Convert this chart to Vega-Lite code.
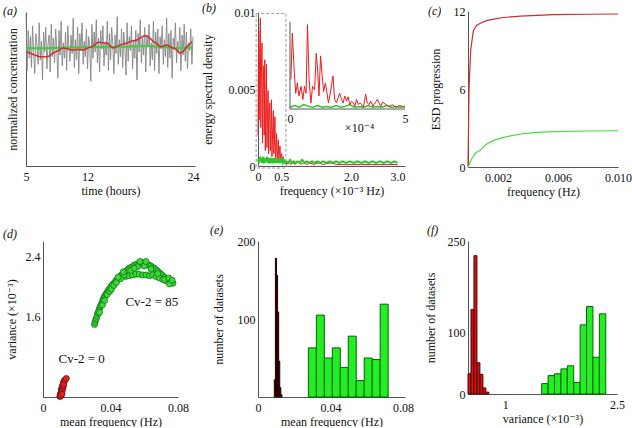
{
  "$schema": "https://vega.github.io/schema/vega-lite/v6.json",
  "padding": {"left": 3, "top": 2, "right": 0, "bottom": 0},
  "background": "white",
  "config": {
    "font": "'Liberation Serif', 'DejaVu Serif', serif",
    "view": {"stroke": null},
    "axis": {"labelFont": "'Liberation Serif', 'DejaVu Serif', serif", "titleFont": "'Liberation Serif', 'DejaVu Serif', serif", "labelFontSize": 12, "titleFontSize": 12, "titleFontWeight": "normal", "ticks": false, "grid": false, "domainColor": "#555555", "labelColor": "#111111", "titleColor": "#111111", "labelPadding": 4, "labelFlush": false, "labelOverlap": false},
    "axisX": {"labelPadding": 5, "titlePadding": 3},
    "title": {"font": "'Liberation Serif', 'DejaVu Serif', serif", "fontSize": 12, "fontWeight": "normal", "fontStyle": "italic", "anchor": "start", "frame": "group", "offset": 0, "color": "#111111"}
  },
  "datasets": {
    "a_gray": [{"t":5,"v":0.99},{"t":5.125,"v":0.62},{"t":5.25,"v":0.88},{"t":5.375,"v":0.70},{"t":5.5,"v":0.84},{"t":5.625,"v":0.64},{"t":5.75,"v":0.91},{"t":5.875,"v":0.73},{"t":6,"v":0.60},{"t":6.125,"v":0.86},{"t":6.25,"v":0.78},{"t":6.375,"v":0.66},{"t":6.5,"v":0.93},{"t":6.625,"v":0.69},{"t":6.75,"v":0.81},{"t":6.875,"v":0.56},{"t":7,"v":0.87},{"t":7.125,"v":0.74},{"t":7.25,"v":0.90},{"t":7.375,"v":0.63},{"t":7.5,"v":0.79},{"t":7.625,"v":0.85},{"t":7.75,"v":0.61},{"t":7.875,"v":0.92},{"t":8,"v":0.71},{"t":8.125,"v":0.83},{"t":8.25,"v":0.67},{"t":8.375,"v":0.89},{"t":8.5,"v":0.76},{"t":8.625,"v":0.57},{"t":8.75,"v":0.88},{"t":8.875,"v":0.72},{"t":9,"v":0.94},{"t":9.125,"v":0.65},{"t":9.25,"v":0.80},{"t":9.375,"v":0.70},{"t":9.5,"v":0.87},{"t":9.625,"v":0.62},{"t":9.75,"v":0.91},{"t":9.875,"v":0.77},{"t":10,"v":0.68},{"t":10.125,"v":0.85},{"t":10.25,"v":0.73},{"t":10.375,"v":0.96},{"t":10.5,"v":0.64},{"t":10.625,"v":0.82},{"t":10.75,"v":0.69},{"t":10.875,"v":0.90},{"t":11,"v":0.60},{"t":11.125,"v":0.86},{"t":11.25,"v":0.75},{"t":11.375,"v":0.93},{"t":11.5,"v":0.66},{"t":11.625,"v":0.81},{"t":11.75,"v":0.71},{"t":11.875,"v":0.89},{"t":12,"v":0.63},{"t":12.125,"v":0.84},{"t":12.25,"v":0.78},{"t":12.375,"v":0.55},{"t":12.5,"v":0.92},{"t":12.625,"v":0.70},{"t":12.75,"v":0.87},{"t":12.875,"v":0.74},{"t":13,"v":0.95},{"t":13.125,"v":0.67},{"t":13.25,"v":0.83},{"t":13.375,"v":0.61},{"t":13.5,"v":0.88},{"t":13.625,"v":0.76},{"t":13.75,"v":0.91},{"t":13.875,"v":0.65},{"t":14,"v":0.80},{"t":14.125,"v":0.72},{"t":14.25,"v":0.94},{"t":14.375,"v":0.62},{"t":14.5,"v":0.86},{"t":14.625,"v":0.69},{"t":14.75,"v":0.90},{"t":14.875,"v":0.79},{"t":15,"v":0.60},{"t":15.125,"v":0.85},{"t":15.25,"v":0.73},{"t":15.375,"v":0.97},{"t":15.5,"v":0.66},{"t":15.625,"v":0.82},{"t":15.75,"v":0.71},{"t":15.875,"v":0.89},{"t":16,"v":0.64},{"t":16.125,"v":0.87},{"t":16.25,"v":0.77},{"t":16.375,"v":0.59},{"t":16.5,"v":0.93},{"t":16.625,"v":0.68},{"t":16.75,"v":0.84},{"t":16.875,"v":0.75},{"t":17,"v":0.91},{"t":17.125,"v":0.63},{"t":17.25,"v":0.81},{"t":17.375,"v":0.70},{"t":17.5,"v":0.88},{"t":17.625,"v":0.56},{"t":17.75,"v":0.86},{"t":17.875,"v":0.74},{"t":18,"v":0.95},{"t":18.125,"v":0.67},{"t":18.25,"v":0.83},{"t":18.375,"v":0.72},{"t":18.5,"v":0.90},{"t":18.625,"v":0.61},{"t":18.75,"v":0.85},{"t":18.875,"v":0.78},{"t":19,"v":0.92},{"t":19.125,"v":0.65},{"t":19.25,"v":0.80},{"t":19.375,"v":0.69},{"t":19.5,"v":0.94},{"t":19.625,"v":0.62},{"t":19.75,"v":0.87},{"t":19.875,"v":0.73},{"t":20,"v":0.89},{"t":20.125,"v":0.60},{"t":20.25,"v":0.84},{"t":20.375,"v":0.76},{"t":20.5,"v":0.91},{"t":20.625,"v":0.66},{"t":20.75,"v":0.82},{"t":20.875,"v":0.71},{"t":21,"v":0.96},{"t":21.125,"v":0.64},{"t":21.25,"v":0.86},{"t":21.375,"v":0.70},{"t":21.5,"v":0.88},{"t":21.625,"v":0.57},{"t":21.75,"v":0.83},{"t":21.875,"v":0.77},{"t":22,"v":0.93},{"t":22.125,"v":0.67},{"t":22.25,"v":0.81},{"t":22.375,"v":0.74},{"t":22.5,"v":0.90},{"t":22.625,"v":0.62},{"t":22.75,"v":0.85},{"t":22.875,"v":0.72},{"t":23,"v":0.92},{"t":23.125,"v":0.68},{"t":23.25,"v":0.87},{"t":23.375,"v":0.63},{"t":23.5,"v":0.80},{"t":23.625,"v":0.75},{"t":23.75,"v":0.89},{"t":23.875,"v":0.66},{"t":24,"v":0.84}],
    "a_red": [{"t":5.1,"v":0.742},{"t":5.8,"v":0.725},{"t":6.6,"v":0.71},{"t":7.4,"v":0.71},{"t":8.1,"v":0.734},{"t":8.7,"v":0.75},{"t":9.2,"v":0.766},{"t":9.8,"v":0.76},{"t":10.3,"v":0.753},{"t":10.9,"v":0.757},{"t":11.5,"v":0.753},{"t":12.0,"v":0.765},{"t":12.5,"v":0.775},{"t":12.9,"v":0.79},{"t":13.2,"v":0.805},{"t":13.7,"v":0.80},{"t":14.2,"v":0.799},{"t":14.6,"v":0.78},{"t":14.9,"v":0.766},{"t":15.3,"v":0.775},{"t":15.7,"v":0.786},{"t":16.1,"v":0.792},{"t":16.5,"v":0.799},{"t":17.0,"v":0.81},{"t":17.6,"v":0.818},{"t":18.1,"v":0.835},{"t":18.5,"v":0.846},{"t":18.9,"v":0.84},{"t":19.5,"v":0.807},{"t":19.9,"v":0.795},{"t":20.3,"v":0.775},{"t":20.7,"v":0.78},{"t":21.0,"v":0.786},{"t":21.4,"v":0.775},{"t":21.7,"v":0.766},{"t":22.1,"v":0.755},{"t":22.5,"v":0.734},{"t":22.9,"v":0.745},{"t":23.3,"v":0.775},{"t":23.6,"v":0.79},{"t":23.9,"v":0.807}],
    "a_green": [{"t":5,"v":0.766},{"t":6,"v":0.765},{"t":7,"v":0.764},{"t":8,"v":0.766},{"t":9,"v":0.768},{"t":10,"v":0.769},{"t":11,"v":0.770},{"t":12,"v":0.771},{"t":13,"v":0.772},{"t":14,"v":0.773},{"t":15,"v":0.773},{"t":16,"v":0.774},{"t":17,"v":0.776},{"t":18,"v":0.778},{"t":19,"v":0.777},{"t":20,"v":0.774},{"t":21,"v":0.771},{"t":22,"v":0.768},{"t":23,"v":0.767},{"t":24,"v":0.769}],
    "b_red": [{"f":0,"v":0.002},{"f":0.008,"v":0.006},{"f":0.015,"v":0.0088},{"f":0.025,"v":0.003},{"f":0.035,"v":0.007},{"f":0.05,"v":0.0096},{"f":0.06,"v":0.0025},{"f":0.07,"v":0.0055},{"f":0.087,"v":0.008},{"f":0.097,"v":0.0015},{"f":0.11,"v":0.005},{"f":0.124,"v":0.0065},{"f":0.133,"v":0.002},{"f":0.146,"v":0.0069},{"f":0.158,"v":0.001},{"f":0.17,"v":0.004},{"f":0.182,"v":0.0066},{"f":0.192,"v":0.0012},{"f":0.205,"v":0.0035},{"f":0.218,"v":0.0049},{"f":0.228,"v":0.0008},{"f":0.24,"v":0.003},{"f":0.255,"v":0.0041},{"f":0.265,"v":0.001},{"f":0.278,"v":0.0025},{"f":0.29,"v":0.0043},{"f":0.3,"v":0.0006},{"f":0.312,"v":0.002},{"f":0.33,"v":0.0036},{"f":0.34,"v":0.0008},{"f":0.352,"v":0.0015},{"f":0.364,"v":0.0032},{"f":0.375,"v":0.0005},{"f":0.388,"v":0.0012},{"f":0.4,"v":0.0021},{"f":0.412,"v":0.0004},{"f":0.425,"v":0.001},{"f":0.437,"v":0.0017},{"f":0.448,"v":0.0003},{"f":0.46,"v":0.0008},{"f":0.473,"v":0.0013},{"f":0.485,"v":0.0003},{"f":0.497,"v":0.0006},{"f":0.51,"v":0.0008},{"f":0.525,"v":0.0002},{"f":0.546,"v":0.0006},{"f":0.565,"v":0.0002},{"f":0.597,"v":0.0003},{"f":0.62,"v":0.0001},{"f":0.66,"v":0.0003},{"f":0.7,"v":0.0001},{"f":0.75,"v":0.0002},{"f":0.8,"v":0.0001},{"f":0.86,"v":0.0003},{"f":0.92,"v":0.0001},{"f":0.98,"v":0.0002},{"f":1.05,"v":0.0001},{"f":1.12,"v":0.0002},{"f":1.2,"v":0.0001},{"f":1.3,"v":0.0002},{"f":1.4,"v":0.0001},{"f":1.55,"v":0.0002},{"f":1.7,"v":0.0001},{"f":1.9,"v":0.0001},{"f":2.2,"v":0.0001},{"f":2.6,"v":0.0001},{"f":3,"v":0.0001}],
    "b_green": [{"f":0,"v":0.0003},{"f":0.015,"v":0.0005},{"f":0.03,"v":0.0002},{"f":0.045,"v":0.0006},{"f":0.06,"v":0.0003},{"f":0.075,"v":0.0005},{"f":0.09,"v":0.0002},{"f":0.105,"v":0.0006},{"f":0.12,"v":0.0003},{"f":0.135,"v":0.0004},{"f":0.15,"v":0.0002},{"f":0.165,"v":0.0005},{"f":0.18,"v":0.0003},{"f":0.195,"v":0.0006},{"f":0.21,"v":0.0002},{"f":0.225,"v":0.0004},{"f":0.24,"v":0.0003},{"f":0.255,"v":0.0005},{"f":0.27,"v":0.0002},{"f":0.285,"v":0.0004},{"f":0.3,"v":0.0003},{"f":0.315,"v":0.0005},{"f":0.33,"v":0.0002},{"f":0.345,"v":0.0004},{"f":0.36,"v":0.0003},{"f":0.375,"v":0.0005},{"f":0.39,"v":0.0002},{"f":0.405,"v":0.0004},{"f":0.42,"v":0.0002},{"f":0.435,"v":0.0004},{"f":0.45,"v":0.0003},{"f":0.47,"v":0.0005},{"f":0.49,"v":0.0002},{"f":0.51,"v":0.0004},{"f":0.53,"v":0.0002},{"f":0.55,"v":0.0004},{"f":0.58,"v":0.0002},{"f":0.61,"v":0.0003},{"f":0.65,"v":0.0002},{"f":0.69,"v":0.0004},{"f":0.73,"v":0.0002},{"f":0.77,"v":0.0003},{"f":0.81,"v":0.0002},{"f":0.85,"v":0.0003},{"f":0.9,"v":0.0002},{"f":0.95,"v":0.0004},{"f":1,"v":0.0002},{"f":1.05,"v":0.0003},{"f":1.1,"v":0.0002},{"f":1.16,"v":0.0003},{"f":1.22,"v":0.0002},{"f":1.28,"v":0.0003},{"f":1.34,"v":0.0002},{"f":1.4,"v":0.0003},{"f":1.47,"v":0.0002},{"f":1.54,"v":0.0003},{"f":1.61,"v":0.0002},{"f":1.68,"v":0.0003},{"f":1.75,"v":0.0002},{"f":1.82,"v":0.0003},{"f":1.9,"v":0.0002},{"f":1.98,"v":0.0003},{"f":2.06,"v":0.0002},{"f":2.14,"v":0.0003},{"f":2.22,"v":0.0002},{"f":2.3,"v":0.0003},{"f":2.38,"v":0.0002},{"f":2.46,"v":0.0003},{"f":2.54,"v":0.0002},{"f":2.62,"v":0.0003},{"f":2.7,"v":0.0002},{"f":2.78,"v":0.0003},{"f":2.86,"v":0.0002},{"f":2.94,"v":0.0003},{"f":3,"v":0.0002}],
    "b_box": [{"x0":-0.04,"x1":0.6,"y0":-0.00013,"y1":0.0099}],
    "inset_red": [{"f":0.04,"v":0.0034},{"f":0.1,"v":0.0087},{"f":0.19,"v":0.0041},{"f":0.25,"v":0.0018},{"f":0.32,"v":0.003},{"f":0.39,"v":0.0015},{"f":0.48,"v":0.0026},{"f":0.56,"v":0.0011},{"f":0.63,"v":0.0026},{"f":0.7,"v":0.0018},{"f":0.76,"v":0.0097},{"f":0.83,"v":0.0034},{"f":0.91,"v":0.0007},{"f":0.98,"v":0.0026},{"f":1.07,"v":0.0022},{"f":1.14,"v":0.0064},{"f":1.2,"v":0.0045},{"f":1.26,"v":0.0015},{"f":1.33,"v":0.0061},{"f":1.39,"v":0.0041},{"f":1.46,"v":0.002},{"f":1.54,"v":0.003},{"f":1.61,"v":0.0018},{"f":1.67,"v":0.0007},{"f":1.73,"v":0.0015},{"f":1.8,"v":0.0026},{"f":1.87,"v":0.0038},{"f":1.94,"v":0.0011},{"f":2.02,"v":0.0007},{"f":2.09,"v":0.0013},{"f":2.16,"v":0.0018},{"f":2.24,"v":0.0011},{"f":2.31,"v":0.0007},{"f":2.38,"v":0.0015},{"f":2.46,"v":0.0009},{"f":2.53,"v":0.0014},{"f":2.6,"v":0.0005},{"f":2.68,"v":0.0009},{"f":2.75,"v":0.0007},{"f":2.82,"v":0.0003},{"f":2.89,"v":0.0011},{"f":2.97,"v":0.0005},{"f":3.04,"v":0.0007},{"f":3.11,"v":0.0005},{"f":3.19,"v":0.0002},{"f":3.29,"v":0.0017},{"f":3.36,"v":0.0007},{"f":3.44,"v":0.0005},{"f":3.51,"v":0.0009},{"f":3.61,"v":0.0003},{"f":3.7,"v":0.0007},{"f":3.8,"v":0.0011},{"f":3.87,"v":0.0007},{"f":3.95,"v":0.0003},{"f":4.02,"v":0.0008},{"f":4.17,"v":0.0005},{"f":4.31,"v":0.0003},{"f":4.46,"v":0.0005},{"f":4.61,"v":0.0002},{"f":4.75,"v":0.0004},{"f":4.9,"v":0.0003},{"f":5,"v":0.0002}],
    "inset_green": [{"f":0,"v":0.0002},{"f":0.2,"v":0.0004},{"f":0.4,"v":0.0002},{"f":0.6,"v":0.0005},{"f":0.8,"v":0.0003},{"f":1,"v":0.0002},{"f":1.2,"v":0.0004},{"f":1.4,"v":0.0002},{"f":1.6,"v":0.0003},{"f":1.8,"v":0.0002},{"f":2,"v":0.0004},{"f":2.2,"v":0.0002},{"f":2.4,"v":0.0003},{"f":2.6,"v":0.0005},{"f":2.8,"v":0.0002},{"f":3,"v":0.0003},{"f":3.2,"v":0.0002},{"f":3.4,"v":0.0004},{"f":3.6,"v":0.0002},{"f":3.8,"v":0.0003},{"f":4,"v":0.0002},{"f":4.2,"v":0.0004},{"f":4.4,"v":0.0002},{"f":4.6,"v":0.0003},{"f":4.8,"v":0.0002},{"f":5,"v":0.0003}],
    "inset_axes": [{"x0":0,"x1":5,"y0":0,"y1":0},{"x0":0,"x1":0,"y0":0,"y1":0.01}],
    "c_data": [{"f":0,"v":0,"s":"r"},{"f":0.00007,"v":6.0,"s":"r"},{"f":0.00018,"v":9.0,"s":"r"},{"f":0.00036,"v":10.5,"s":"r"},{"f":0.00058,"v":10.9,"s":"r"},{"f":0.0009,"v":11.1,"s":"r"},{"f":0.00124,"v":11.26,"s":"r"},{"f":0.0018,"v":11.4,"s":"r"},{"f":0.00236,"v":11.5,"s":"r"},{"f":0.0035,"v":11.6,"s":"r"},{"f":0.0057,"v":11.72,"s":"r"},{"f":0.008,"v":11.75,"s":"r"},{"f":0.01,"v":11.77,"s":"r"},
      {"f":0,"v":0,"s":"g"},{"f":0.00024,"v":0.6,"s":"g"},{"f":0.00045,"v":1.0,"s":"g"},{"f":0.00058,"v":1.13,"s":"g"},{"f":0.0008,"v":1.26,"s":"g"},{"f":0.00124,"v":1.77,"s":"g"},{"f":0.00169,"v":2.03,"s":"g"},{"f":0.00236,"v":2.28,"s":"g"},{"f":0.0035,"v":2.54,"s":"g"},{"f":0.0046,"v":2.67,"s":"g"},{"f":0.0057,"v":2.72,"s":"g"},{"f":0.0079,"v":2.77,"s":"g"},{"f":0.01,"v":2.79,"s":"g"}],
    "d_green": [{"x":0.0305,"y":1.50},{"x":0.0308,"y":1.53},{"x":0.0312,"y":1.56},{"x":0.0316,"y":1.58},{"x":0.032,"y":1.61},{"x":0.0323,"y":1.64},{"x":0.0327,"y":1.66},{"x":0.033,"y":1.68},{"x":0.0334,"y":1.71},{"x":0.0338,"y":1.73},{"x":0.0342,"y":1.75},{"x":0.0346,"y":1.77},{"x":0.035,"y":1.79},{"x":0.0354,"y":1.82},{"x":0.0358,"y":1.84},{"x":0.0362,"y":1.86},{"x":0.0366,"y":1.88},{"x":0.037,"y":1.89},{"x":0.0375,"y":1.91},{"x":0.038,"y":1.93},{"x":0.0386,"y":1.95},{"x":0.0392,"y":1.97},{"x":0.04,"y":2.00},{"x":0.041,"y":2.03},{"x":0.042,"y":2.05},{"x":0.043,"y":2.08},{"x":0.044,"y":2.10},{"x":0.045,"y":2.12},{"x":0.046,"y":2.15},{"x":0.047,"y":2.17},{"x":0.048,"y":2.19},{"x":0.049,"y":2.21},{"x":0.05,"y":2.23},{"x":0.051,"y":2.25},{"x":0.052,"y":2.26},{"x":0.053,"y":2.27},{"x":0.054,"y":2.29},{"x":0.055,"y":2.30},{"x":0.056,"y":2.31},{"x":0.057,"y":2.31},{"x":0.058,"y":2.32},{"x":0.059,"y":2.32},{"x":0.06,"y":2.31},{"x":0.061,"y":2.31},{"x":0.062,"y":2.30},{"x":0.063,"y":2.29},{"x":0.064,"y":2.28},{"x":0.065,"y":2.26},{"x":0.066,"y":2.25},{"x":0.067,"y":2.23},{"x":0.068,"y":2.21},{"x":0.069,"y":2.19},{"x":0.07,"y":2.17},{"x":0.071,"y":2.15},{"x":0.072,"y":2.13},{"x":0.073,"y":2.11},{"x":0.074,"y":2.09},{"x":0.075,"y":2.08},{"x":0.076,"y":2.06},{"x":0.077,"y":2.05},{"x":0.049,"y":2.14},{"x":0.051,"y":2.15},{"x":0.053,"y":2.16},{"x":0.055,"y":2.17},{"x":0.057,"y":2.17},{"x":0.059,"y":2.16},{"x":0.061,"y":2.16},{"x":0.063,"y":2.15},{"x":0.065,"y":2.16},{"x":0.067,"y":2.14},{"x":0.069,"y":2.12},{"x":0.071,"y":2.10},{"x":0.073,"y":2.08},{"x":0.0335,"y":1.66},{"x":0.0352,"y":1.76},{"x":0.0365,"y":1.82},{"x":0.038,"y":1.90},{"x":0.0395,"y":1.94},{"x":0.0405,"y":1.97},{"x":0.042,"y":2.02},{"x":0.0435,"y":2.06},{"x":0.046,"y":2.11},{"x":0.048,"y":2.16},{"x":0.052,"y":2.22},{"x":0.056,"y":2.27},{"x":0.06,"y":2.28},{"x":0.064,"y":2.24},{"x":0.068,"y":2.18},{"x":0.072,"y":2.10},{"x":0.075,"y":2.04},{"x":0.0745,"y":2.12},{"x":0.0765,"y":2.09},{"x":0.0575,"y":2.34},{"x":0.061,"y":2.34},{"x":0.054,"y":2.25},{"x":0.0445,"y":2.13},{"x":0.0475,"y":2.20}],
    "d_red": [{"x":0.01,"y":0.54},{"x":0.0102,"y":0.55},{"x":0.0104,"y":0.56},{"x":0.0105,"y":0.57},{"x":0.0107,"y":0.58},{"x":0.0108,"y":0.60},{"x":0.011,"y":0.61},{"x":0.0111,"y":0.63},{"x":0.0113,"y":0.64},{"x":0.0114,"y":0.66},{"x":0.0116,"y":0.67},{"x":0.0117,"y":0.69},{"x":0.0119,"y":0.70},{"x":0.0121,"y":0.72},{"x":0.0123,"y":0.73},{"x":0.0126,"y":0.75},{"x":0.013,"y":0.76},{"x":0.0138,"y":0.78},{"x":0.0103,"y":0.57},{"x":0.011,"y":0.58},{"x":0.0112,"y":0.60},{"x":0.0109,"y":0.64},{"x":0.0115,"y":0.63},{"x":0.0118,"y":0.66},{"x":0.012,"y":0.68},{"x":0.0122,"y":0.70},{"x":0.0106,"y":0.55},{"x":0.0112,"y":0.57}],
    "d_text": [{"x":0.0645,"y":1.796,"label":"Cv-2 = 85"},{"x":0.0229,"y":1.04,"label":"Cv-2 = 0"}],
    "e_bins": [{"x0":0.0278,"x1":0.0322,"n":63,"s":"g"},{"x0":0.0322,"x1":0.0366,"n":105,"s":"g"},{"x0":0.0366,"x1":0.041,"n":50,"s":"g"},{"x0":0.041,"x1":0.0454,"n":63,"s":"g"},{"x0":0.0454,"x1":0.0498,"n":38,"s":"g"},{"x0":0.0498,"x1":0.0542,"n":78,"s":"g"},{"x0":0.0542,"x1":0.0586,"n":21,"s":"g"},{"x0":0.0586,"x1":0.063,"n":50,"s":"g"},{"x0":0.063,"x1":0.0674,"n":48,"s":"g"},{"x0":0.0674,"x1":0.0718,"n":119,"s":"g"},
      {"x0":0.009,"x1":0.0096,"n":22,"s":"r"},{"x0":0.0096,"x1":0.0102,"n":178,"s":"r"},{"x0":0.0102,"x1":0.0108,"n":156,"s":"r"},{"x0":0.0108,"x1":0.0114,"n":109,"s":"r"},{"x0":0.0114,"x1":0.012,"n":46,"s":"r"},{"x0":0.012,"x1":0.0126,"n":12,"s":"r"},{"x0":0.0126,"x1":0.0132,"n":3,"s":"r"}],
    "f_bins": [{"x0":0.5,"x1":0.54,"n":33,"s":"r"},{"x0":0.54,"x1":0.58,"n":138,"s":"r"},{"x0":0.58,"x1":0.62,"n":226,"s":"r"},{"x0":0.62,"x1":0.66,"n":51,"s":"r"},{"x0":0.66,"x1":0.7,"n":32,"s":"r"},{"x0":0.7,"x1":0.74,"n":10,"s":"r"},{"x0":0.74,"x1":0.78,"n":3,"s":"r"},
      {"x0":1.489,"x1":1.575,"n":17,"s":"g"},{"x0":1.575,"x1":1.661,"n":30,"s":"g"},{"x0":1.661,"x1":1.747,"n":33,"s":"g"},{"x0":1.747,"x1":1.833,"n":41,"s":"g"},{"x0":1.833,"x1":1.919,"n":46,"s":"g"},{"x0":1.919,"x1":2.005,"n":19,"s":"g"},{"x0":2.005,"x1":2.091,"n":113,"s":"g"},{"x0":2.091,"x1":2.177,"n":143,"s":"g"},{"x0":2.177,"x1":2.263,"n":60,"s":"g"},{"x0":2.263,"x1":2.349,"n":131,"s":"g"}]
  },
  "concat": [
    {
      "width": 169, "height": 154,
      "title": {"text": "(a)", "dx": -23, "dy": 10},
      "layer": [
        {"data": {"name": "a_gray"}, "mark": {"type": "line", "color": "#858585", "strokeWidth": 0.9},
         "encoding": {
           "x": {"field": "t", "type": "quantitative", "scale": {"domain": [5, 24.2275], "nice": false, "zero": false}, "axis": {"values": [5, 12, 24], "title": "time (hours)"}},
           "y": {"field": "v", "type": "quantitative", "scale": {"domain": [0, 1], "nice": false}, "axis": {"labels": false, "title": "normalized concentration", "titlePadding": 7}}}},
        {"data": {"name": "a_green"}, "mark": {"type": "line", "color": "#3ccc3c", "strokeWidth": 2},
         "encoding": {"x": {"field": "t", "type": "quantitative"}, "y": {"field": "v", "type": "quantitative"}}},
        {"data": {"name": "a_red"}, "mark": {"type": "line", "color": "#d42a2a", "strokeWidth": 1.5, "interpolate": "monotone"},
         "encoding": {"x": {"field": "t", "type": "quantitative"}, "y": {"field": "v", "type": "quantitative"}}}
      ]
    },
    {
      "width": 147, "height": 154,
      "title": {"text": "(b)", "dx": -56, "dy": 13},
      "layer": [
        {"data": {"name": "b_box"}, "mark": {"type": "rect", "fill": null, "stroke": "#999999", "strokeDash": [3, 2], "strokeWidth": 1},
         "encoding": {
           "x": {"field": "x0", "type": "quantitative", "scale": {"domain": [0, 3.1613], "nice": false, "zero": false}, "axis": {"values": [0, 0.5, 2, 3], "labelExpr": "datum.value == 0 ? '0' : format(datum.value, '.1f')", "title": "frequency (×10⁻³ Hz)"}},
           "x2": {"field": "x1"},
           "y": {"field": "y0", "type": "quantitative", "scale": {"domain": [0, 0.01], "nice": false}, "axis": {"values": [0, 0.005, 0.01], "labelExpr": "datum.value == 0 ? '0' : datum.value > 0.008 ? '0.01' : '0.005'", "title": "energy spectral density", "labelPadding": 3, "titlePadding": 14}},
           "y2": {"field": "y1"}}},
        {"data": {"name": "b_red"}, "mark": {"type": "line", "color": "#ee1c1c", "strokeWidth": 1},
         "encoding": {"x": {"field": "f", "type": "quantitative", "scale": {"domain": [0, 3.1613], "nice": false, "zero": false}, "axis": null}, "y": {"field": "v", "type": "quantitative", "scale": {"domain": [0, 0.01], "nice": false}, "axis": null}}},
        {"data": {"name": "b_green"}, "mark": {"type": "line", "color": "#2ec42e", "strokeWidth": 2},
         "encoding": {"x": {"field": "f", "type": "quantitative", "scale": {"domain": [0, 3.1613], "nice": false, "zero": false}, "axis": null}, "y": {"field": "v", "type": "quantitative", "scale": {"domain": [0, 0.01], "nice": false}, "axis": null}}},
        {"data": {"name": "inset_green"}, "mark": {"type": "line", "color": "#2ec42e", "strokeWidth": 1.5},
         "encoding": {
           "x": {"field": "f", "type": "quantitative", "scale": {"domain": [-1.3913, 5.0], "nice": false, "zero": false}, "axis": {"orient": "bottom", "offset": -57, "domain": false, "values": [0, 5], "labelPadding": 4, "title": "×10⁻⁴", "titleX": 101, "titleY": 18, "titleBaseline": "middle"}},
           "y": {"field": "v", "type": "quantitative", "scale": {"domain": [-0.0065517, 0.0111494], "nice": false, "zero": false}, "axis": null}}},
        {"data": {"name": "inset_red"}, "mark": {"type": "line", "color": "#ee1c1c", "strokeWidth": 1},
         "encoding": {"x": {"field": "f", "type": "quantitative", "scale": {"domain": [-1.3913, 5.0], "nice": false, "zero": false}, "axis": null}, "y": {"field": "v", "type": "quantitative", "scale": {"domain": [-0.0065517, 0.0111494], "nice": false, "zero": false}, "axis": null}}},
        {"data": {"name": "inset_axes"}, "mark": {"type": "rule", "color": "#555555", "strokeWidth": 1},
         "encoding": {"x": {"field": "x0", "type": "quantitative", "scale": {"domain": [-1.3913, 5.0], "nice": false, "zero": false}, "axis": null}, "x2": {"field": "x1"}, "y": {"field": "y0", "type": "quantitative", "scale": {"domain": [-0.0065517, 0.0111494], "nice": false, "zero": false}, "axis": null}, "y2": {"field": "y1"}}}
      ],
      "resolve": {"scale": {"x": "independent", "y": "independent"}, "axis": {"x": "independent", "y": "independent"}}
    },
    {
      "width": 150, "height": 156,
      "title": {"text": "(c)", "dx": -40, "dy": 17},
      "data": {"name": "c_data"},
      "mark": {"type": "line", "strokeWidth": 1.2},
      "encoding": {
        "x": {"field": "f", "type": "quantitative", "scale": {"domain": [0, 0.01], "nice": false}, "axis": {"values": [0.002, 0.006, 0.01], "format": ".3f", "title": "frequency (Hz)"}},
        "y": {"field": "v", "type": "quantitative", "scale": {"domain": [0, 12], "nice": false}, "axis": {"values": [0, 6, 12], "title": "ESD progression", "labelPadding": 3, "titlePadding": 11}},
        "color": {"field": "s", "type": "nominal", "scale": {"domain": ["r", "g"], "range": ["#d42a2a", "#44dd44"]}, "legend": null}
      }
    },
    {
      "width": 135, "height": 156,
      "title": {"text": "(d)", "dx": -40, "dy": 4},
      "layer": [
        {"data": {"name": "d_red"}, "mark": {"type": "point", "filled": true, "fill": "#dd2222", "stroke": "#771111", "strokeWidth": 0.8, "size": 36, "opacity": 1},
         "encoding": {
           "x": {"field": "x", "type": "quantitative", "scale": {"domain": [0, 0.08], "nice": false}, "axis": {"values": [0, 0.04, 0.08], "labelExpr": "datum.value == 0 ? '0' : format(datum.value, '.2f')", "title": "mean frequency (Hz)"}},
           "y": {"field": "y", "type": "quantitative", "scale": {"domain": [0.5333, 2.6133], "nice": false, "zero": false}, "axis": {"values": [1.6, 2.4], "format": ".1f", "title": "variance (×10⁻³)", "labelPadding": 3, "titlePadding": 7}}}},
        {"data": {"name": "d_green"}, "mark": {"type": "point", "filled": true, "fill": "#3ad83a", "stroke": "#117711", "strokeWidth": 0.8, "size": 36, "opacity": 1},
         "encoding": {"x": {"field": "x", "type": "quantitative"}, "y": {"field": "y", "type": "quantitative"}}},
        {"data": {"name": "d_text"}, "mark": {"type": "text", "font": "'Liberation Serif', 'DejaVu Serif', serif", "fontSize": 13, "color": "#111111"},
         "encoding": {"x": {"field": "x", "type": "quantitative"}, "y": {"field": "y", "type": "quantitative"}, "text": {"field": "label"}}}
      ]
    },
    {
      "width": 147, "height": 156,
      "title": {"text": "(e)", "dx": -48, "dy": 6},
      "data": {"name": "e_bins"},
      "mark": {"type": "rect", "strokeWidth": 1},
      "encoding": {
        "x": {"field": "x0", "type": "quantitative", "scale": {"domain": [0, 0.0811], "nice": false}, "axis": {"values": [0, 0.04, 0.08], "labelExpr": "datum.value == 0 ? '0' : format(datum.value, '.2f')", "title": "mean frequency (Hz)"}},
        "x2": {"field": "x1"},
        "y": {"field": "n", "type": "quantitative", "scale": {"domain": [0, 200], "nice": false}, "axis": {"values": [100, 200], "title": "number of datasets", "labelPadding": 3, "titlePadding": 12}},
        "y2": {"datum": 0},
        "fill": {"field": "s", "type": "nominal", "scale": {"domain": ["g", "r"], "range": ["#22ee22", "#7a0c0c"]}, "legend": null},
        "stroke": {"field": "s", "type": "nominal", "scale": {"domain": ["g", "r"], "range": ["#0a600a", "#220000"]}, "legend": null}
      }
    },
    {
      "width": 149, "height": 153,
      "title": {"text": "(f)", "dx": -41, "dy": 6},
      "data": {"name": "f_bins"},
      "mark": {"type": "rect", "strokeWidth": 1},
      "encoding": {
        "x": {"field": "x0", "type": "quantitative", "scale": {"domain": [0.5, 2.5], "nice": false, "zero": false}, "axis": {"values": [1, 2.5], "labelExpr": "datum.value == 1 ? '1' : '2.5'", "title": "variance (×10⁻³)"}},
        "x2": {"field": "x1"},
        "y": {"field": "n", "type": "quantitative", "scale": {"domain": [0, 250], "nice": false}, "axis": {"values": [0, 100, 250], "title": "number of datasets", "labelPadding": 3, "titlePadding": 10}},
        "y2": {"datum": 0},
        "fill": {"field": "s", "type": "nominal", "scale": {"domain": ["g", "r"], "range": ["#22ee22", "#cc1414"]}, "legend": null},
        "stroke": {"field": "s", "type": "nominal", "scale": {"domain": ["g", "r"], "range": ["#0a600a", "#550000"]}, "legend": null}
      }
    }
  ],
  "columns": 3,
  "spacing": {"row": 74, "column": 63},
  "bounds": "flush",
  "align": "each",
  "center": true,
  "resolve": {"scale": {"fill": "independent", "stroke": "independent", "color": "independent"}}
}
